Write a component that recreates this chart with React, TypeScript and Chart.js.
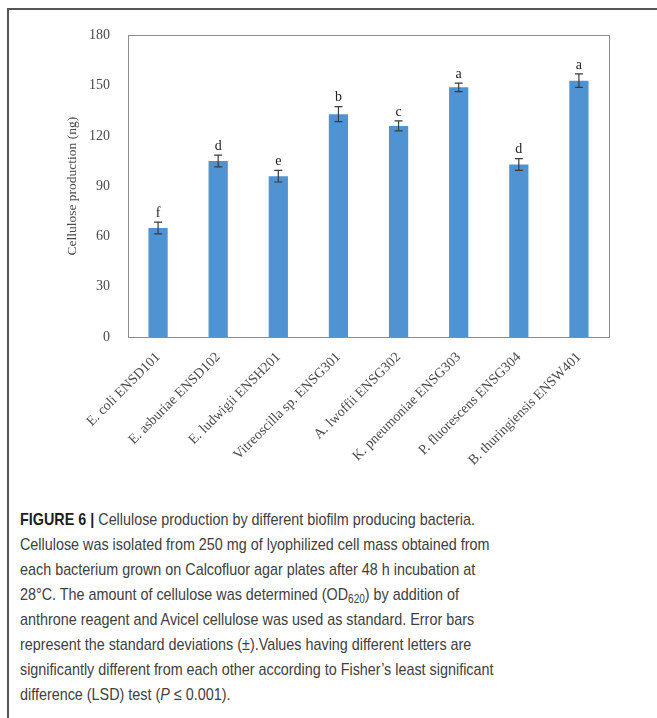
import React, { useEffect, useRef } from "react";
import { Chart, registerables } from "chart.js";

Chart.register(...registerables);

const strains = [
  "E. coli ENSD101",
  "E. asburiae ENSD102",
  "E. ludwigii ENSH201",
  "Vitreoscilla sp. ENSG301",
  "A. lwoffii ENSG302",
  "K. pneumoniae ENSG303",
  "P. fluorescens ENSG304",
  "B. thuringiensis ENSW401",
];
const cellulose = [65, 105, 96, 133, 126, 149, 103, 153];
const stdDev = [3.5, 3.5, 3.5, 4.5, 3, 2.5, 3.5, 4];
const groups = ["f", "d", "e", "b", "c", "a", "d", "a"];
const yTicks = [0, 30, 60, 90, 120, 150, 180];

const SERIF = "'Liberation Serif', 'Times New Roman', serif";

// Error bars, significance letters and the framed plot box
const decorations = {
  id: "decorations",
  afterDatasetsDraw(chart: any) {
    const { ctx, chartArea } = chart;
    const meta = chart.getDatasetMeta(0);
    const y = chart.scales.y;
    ctx.save();
    meta.data.forEach((bar: any, i: number) => {
      const x = bar.x;
      const top = y.getPixelForValue(cellulose[i] + stdDev[i]);
      const bottom = y.getPixelForValue(cellulose[i] - stdDev[i]);
      ctx.strokeStyle = "#3a3a3a";
      ctx.lineWidth = 1.2;
      ctx.beginPath();
      ctx.moveTo(x, top);
      ctx.lineTo(x, bottom);
      ctx.moveTo(x - 4, top);
      ctx.lineTo(x + 4, top);
      ctx.moveTo(x - 4, bottom);
      ctx.lineTo(x + 4, bottom);
      ctx.stroke();
      ctx.fillStyle = "#222";
      ctx.font = `14px ${SERIF}`;
      ctx.textAlign = "center";
      ctx.textBaseline = "bottom";
      ctx.fillText(groups[i], x, top - 2);
    });
    ctx.strokeStyle = "#8c8c8c";
    ctx.lineWidth = 1;
    ctx.strokeRect(
      Math.round(chartArea.left) + 0.5,
      Math.round(chartArea.top) + 0.5,
      Math.round(chartArea.right - chartArea.left),
      Math.round(chartArea.bottom - chartArea.top)
    );
    ctx.restore();
  },
};

function CelluloseChart() {
  const ref = useRef<HTMLCanvasElement>(null);
  useEffect(() => {
    if (!ref.current) return;
    const chart = new Chart(ref.current, {
      type: "bar",
      data: {
        labels: strains,
        datasets: [
          {
            data: cellulose,
            backgroundColor: "#4f93d3",
            borderWidth: 0,
            categoryPercentage: 1,
            barPercentage: 0.32,
          },
        ],
      },
      options: {
        animation: false,
        responsive: false,
        devicePixelRatio: 1,
        layout: { padding: { top: 12, right: 31, left: 0, bottom: 0 } },
        plugins: {
          legend: { display: false },
          tooltip: { enabled: false },
        },
        scales: {
          x: {
            grid: { display: false },
            border: { display: false },
            ticks: {
              color: "#4a4a4a",
              font: { family: SERIF, size: 14 },
              maxRotation: 45,
              minRotation: 45,
              padding: 4,
              autoSkip: false,
            },
            afterFit: (s: any) => {
              s.height = 160;
            },
          },
          y: {
            min: 0,
            max: 180,
            grid: { display: false },
            border: { display: false },
            afterBuildTicks: (s: any) => {
              s.ticks = yTicks.map((v) => ({ value: v }));
            },
            ticks: {
              color: "#4a4a4a",
              font: { family: SERIF, size: 14 },
              padding: 10,
            },
            title: {
              display: true,
              text: "Cellulose production (ng)",
              color: "#4a4a4a",
              font: { family: SERIF, size: 13.5 },
              padding: { top: 14, bottom: 0 },
            },
            afterFit: (s: any) => {
              s.width = 78;
            },
          },
        },
      },
      plugins: [decorations],
    });
    return () => chart.destroy();
  }, []);
  return (
    <canvas
      ref={ref}
      width={590}
      height={480}
      style={{ position: "absolute", left: 50, top: 17, width: 590, height: 480 }}
    />
  );
}

const captionLines: React.ReactNode[] = [
  <>
    <b style={{ color: "#1e1e1e" }}>FIGURE 6 |</b> Cellulose production by different biofilm producing bacteria.
  </>,
  <>Cellulose was isolated from 250 mg of lyophilized cell mass obtained from</>,
  <>each bacterium grown on Calcofluor agar plates after 48 h incubation at</>,
  <>
    28°C. The amount of cellulose was determined (OD
    <sub style={{ fontSize: "0.7em", verticalAlign: "-0.25em", lineHeight: 0 }}>620</sub>) by addition of
  </>,
  <>anthrone reagent and Avicel cellulose was used as standard. Error bars</>,
  <>represent the standard deviations (±).Values having different letters are</>,
  <>significantly different from each other according to Fisher’s least significant</>,
  <>
    difference (LSD) test (<i>P</i> ≤ 0.001).
  </>,
];

export default function App() {
  return (
    <div
      style={{
        position: "fixed",
        left: 0,
        top: 0,
        width: 657,
        height: 718,
        background: "#fff",
        overflow: "hidden",
      }}
    >
      <div style={{ position: "absolute", left: 7, top: 8, width: 650, height: 2, background: "#555" }} />
      <div style={{ position: "absolute", left: 7, top: 8, width: 2, height: 710, background: "#555" }} />
      <CelluloseChart />
      <div
        style={{
          position: "absolute",
          left: 20,
          top: 507,
          fontFamily: "'Liberation Sans', Arial, sans-serif",
          fontSize: 17,
          lineHeight: "25px",
          color: "#404040",
          whiteSpace: "nowrap",
          transform: "scaleX(0.845)",
          transformOrigin: "0 0",
        }}
      >
        {captionLines.map((line, i) => (
          <div key={i} style={{ height: 25 }}>
            {line}
          </div>
        ))}
      </div>
    </div>
  );
}
